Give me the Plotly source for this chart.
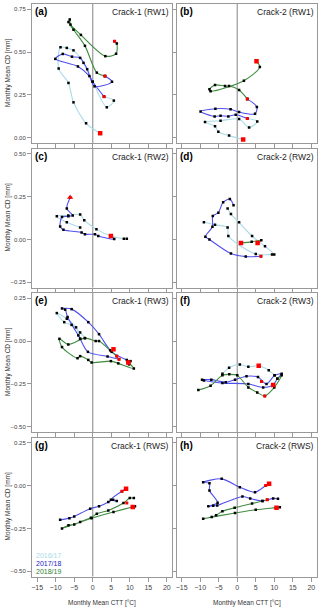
import plotly.graph_objects as go

# monthly mean (CTT [°C], CD [mm]) points, per panel and per season
a_1617 = [(2.0, 0.027), (-1.8, 0.085), (-5.2, 0.207), (-6.55, 0.32), (-9.2, 0.404), (-8.7, 0.528),
          (-7.0, 0.524), (-5.2, 0.51), (-2.5, 0.437), (0.0, 0.327), (3.8, 0.178), (5.7, 0.217), (3.05, 0.24)]
a_1718 = [(3.05, 0.24), (0.0, 0.327), (-0.9, 0.36), (-4.0, 0.416), (-10.1, 0.46), (-8.1, 0.489),
          (-5.6, 0.473), (-3.4, 0.466), (-1.5, 0.40), (0.5, 0.30), (5.2, 0.327), (3.3, 0.36)]
a_1819 = [(3.3, 0.36), (1.1, 0.38), (-2.1, 0.536), (-5.2, 0.63), (-6.55, 0.675), (-6.2, 0.69),
          (-6.0, 0.66), (-3.2, 0.60), (3.4, 0.476), (6.3, 0.49), (6.5, 0.55), (5.9, 0.563)]

b_1617 = [(1.6, -0.01), (-2.2, 0.013), (-5.1, 0.035), (-6.0, 0.067), (-8.7, 0.092), (-4.5, 0.10),
          (0.5, 0.11), (3.2, 0.06), (5.4, 0.096), (2.7, 0.113)]
b_1718 = [(2.7, 0.113), (-0.4, 0.135), (-2.4, 0.125), (-4.5, 0.129), (-6.1, 0.125), (-9.9, 0.154),
          (-5.9, 0.17), (-1.8, 0.167), (0.5, 0.15), (4.8, 0.14), (5.3, 0.18), (2.7, 0.227)]
b_1819 = [(2.7, 0.227), (0.5, 0.279), (-2.2, 0.302), (-3.3, 0.302), (-6.0, 0.308), (-7.5, 0.283),
          (-7.2, 0.272), (1.8, 0.333), (6.1, 0.413), (5.2, 0.446)]

c_1617 = [(-3.4, 0.07), (-7.0, 0.10), (-9.7, 0.135), (-6.6, 0.14), (-3.4, 0.145), (-2.3, 0.112),
          (1.0, 0.06), (4.9, 0.02), (8.4, 0.004), (9.2, 0.004)]
c_1718 = [(-6.1, 0.245), (-7.0, 0.18), (-5.4, 0.14), (-6.6, 0.135), (-8.3, 0.131), (-8.8, 0.076),
          (-7.9, 0.056), (-3.0, 0.04), (-2.1, 0.03), (0.6, 0.03), (1.5, 0.02), (5.8, 0.002), (4.9, 0.02)]
c_1819 = []

d_1617 = [(-2.6, 0.18), (-1.7, 0.148), (0.5, 0.10), (4.0, 0.02), (7.5, -0.04), (10.0, -0.088),
          (9.4, -0.088), (5.0, -0.085), (-2.4, 0.02), (-2.6, 0.07), (-6.0, 0.085), (-9.0, 0.10)]
d_1718 = [(-1.0, 0.20), (-2.0, 0.235), (-3.8, 0.217), (-5.1, 0.156), (-6.6, 0.137), (-6.7, 0.074),
          (-8.6, 0.016), (-7.5, 0.0), (-1.7, -0.082), (2.3, -0.10), (6.4, -0.098)]
d_1819 = [(1.0, -0.02), (3.9, -0.014), (6.5, -0.004), (5.5, -0.02)]

e_1617 = [(-2.1, 0.017), (-3.4, 0.05), (-5.7, 0.094), (-7.7, 0.11), (-9.7, 0.163), (-7.0, 0.13),
          (-4.5, 0.08), (-3.4, 0.013)]
e_1718 = [(7.1, -0.106), (4.0, -0.09), (-1.3, -0.063), (-3.4, 0.013), (-3.9, 0.033), (-6.8, 0.14),
          (-7.45, 0.183), (-8.3, 0.19), (-5.7, 0.186), (-1.2, 0.11), (1.7, 0.04), (5.1, -0.063),
          (9.2, -0.11), (10.2, -0.117), (9.8, -0.136)]
e_1819 = [(6.5, -0.088), (4.7, -0.054), (1.7, 0.0), (0.8, 0.0), (-2.1, 0.017), (-6.6, -0.02),
          (-9.0, 0.013), (-8.3, -0.035), (-4.1, -0.10), (-3.4, -0.088), (-1.2, -0.11), (-0.3, -0.125),
          (4.9, -0.117), (6.9, -0.13), (11.1, -0.16), (9.6, -0.125)]

f_1617 = [(-4.0, -0.19), (-2.2, -0.155), (0.7, -0.137), (3.0, -0.15), (5.8, -0.144), (8.5, -0.17),
          (10.1, -0.20)]
f_1718 = [(-9.5, -0.225), (-7.0, -0.225), (-3.1, -0.24), (-0.6, -0.225), (2.5, -0.205), (5.6, -0.21),
          (7.9, -0.25), (10.1, -0.20), (12.0, -0.19), (10.8, -0.22), (9.7, -0.256), (7.0, -0.27),
          (3.0, -0.25), (-4.0, -0.245), (-9.0, -0.23)]
f_1819 = [(-10.5, -0.285), (-7.2, -0.26), (-4.0, -0.20), (-2.15, -0.194), (0.0, -0.20), (3.0, -0.27),
          (5.4, -0.30), (7.45, -0.32), (10.0, -0.27), (12.0, -0.20), (10.8, -0.22)]

g_1617 = []
g_1718 = [(-8.8, -0.20), (-6.3, -0.19), (-5.0, -0.18), (-0.7, -0.135), (1.7, -0.121), (4.2, -0.096),
          (5.5, -0.083), (6.5, -0.09), (4.9, -0.083), (7.9, -0.033), (9.0, -0.019)]
g_1819 = [(11.1, -0.073), (10.0, -0.073), (8.3, -0.102), (4.2, -0.145), (1.1, -0.164), (-0.5, -0.188),
          (-3.4, -0.212), (-5.0, -0.227), (-6.55, -0.231), (-8.3, -0.25), (-0.3, -0.19), (5.6, -0.154),
          (11.4, -0.121), (10.8, -0.125)]

h_1617 = []
h_1718 = [(11.0, -0.077), (9.7, -0.075), (6.8, -0.09), (3.5, -0.075), (1.4, -0.064), (-5.4, -0.116),
          (-6.5, -0.118), (-7.8, -0.121), (-5.3, -0.10), (-7.5, -0.029), (-7.5, 0.013), (-9.2, 0.019),
          (-4.2, 0.039), (0.7, -0.01), (4.8, -0.039), (7.7, 0.0), (8.6, 0.01)]
h_1819 = [(8.1, -0.083), (6.8, -0.09), (4.0, -0.105), (-0.7, -0.13), (-4.0, -0.15), (-5.7, -0.173),
          (-6.9, -0.183), (-9.2, -0.193), (-0.6, -0.16), (5.0, -0.141), (11.5, -0.127), (10.6, -0.129)]

# red markers (season starts / ends)
red_big = {
    "a": [(2.0, 0.027)], "b": [(1.6, -0.01), (5.2, 0.446)], "c": [(4.9, 0.02)],
    "d": [(1.0, -0.02), (5.5, -0.02)], "e": [(5.6, -0.048), (9.6, -0.125)],
    "f": [(5.8, -0.144), (9.7, -0.256)], "g": [(9.0, -0.019), (10.8, -0.125)],
    "h": [(8.6, 0.01), (10.6, -0.129)],
}
red_small = {
    "a": [(3.05, 0.24), (3.3, 0.36), (5.9, 0.563)], "b": [(2.7, 0.113), (2.7, 0.227)], "c": [],
    "d": [(6.4, -0.098)], "e": [(6.5, -0.088), (7.1, -0.106)], "f": [(6.55, -0.236), (7.45, -0.32)],
    "g": [(7.9, -0.033), (9.2, -0.102)], "h": [(7.7, 0.0), (8.1, -0.083)],
}
red_tri = {"c": [(-6.1, 0.245)]}

panels = ["a", "b", "c", "d", "e", "f", "g", "h"]
titles = ["Crack-1 (RW1)", "Crack-2 (RW1)", "Crack-1 (RW2)", "Crack-2 (RW2)",
          "Crack-1 (RW3)", "Crack-2 (RW3)", "Crack-1 (RWS)", "Crack-2 (RWS)"]
series = {
    "a": [a_1617, a_1718, a_1819], "b": [b_1617, b_1718, b_1819], "c": [c_1617, c_1718, c_1819],
    "d": [d_1617, d_1718, d_1819], "e": [e_1617, e_1718, e_1819], "f": [f_1617, f_1718, f_1819],
    "g": [g_1617, g_1718, g_1819], "h": [h_1617, h_1718, h_1819],
}
seasons = ["2016/17", "2017/18", "2018/19"]
row_ranges = [(0.0, 0.75), (-0.25, 0.5), (-0.5, 0.25), (-0.5, 0.25)]
x_ticks = [-15, -10, -5, 0, 5, 10, 15, 20]

line_cols = ["#a9dbe8", "#5050f0", "#3f8c3f"]
text_cols = ["#a9dbe8", "#2323c8", "#2e7d2e"]

W, H = 320, 609
col_px = [(32, 172), (176.5, 316.5)]
row_top = [4, 148.5, 293, 437.5]
row_h = 139

fig = go.Figure()
layout = dict(width=W, height=H, margin=dict(l=0, r=0, t=0, b=0),
              paper_bgcolor="white", plot_bgcolor="white", showlegend=False,
              font=dict(family="Liberation Sans, Arial", size=7, color="#444"))
annots = []
shapes = []

for k, p in enumerate(panels):
    r, c = k // 2, k % 2
    n = k + 1
    xa = "x" if n == 1 else f"x{n}"
    ya = "y" if n == 1 else f"y{n}"
    x0, x1 = col_px[c][0] / W, col_px[c][1] / W
    y1 = 1 - row_top[r] / H
    y0 = 1 - (row_top[r] + row_h) / H
    lo, hi = row_ranges[r]
    pad = (hi - lo) * 0.04
    layout["xaxis" if n == 1 else f"xaxis{n}"] = dict(
        domain=[x0, x1], anchor=ya, range=[-16.4, 21.4], tickvals=x_ticks,
        showticklabels=(r == 3), ticks="outside", ticklen=4, tickcolor="#999",
        showline=True, mirror=True, linecolor="#999", linewidth=1,
        showgrid=False, zeroline=False, tickfont=dict(size=7, color="#444"))
    layout["yaxis" if n == 1 else f"yaxis{n}"] = dict(
        domain=[y0, y1], anchor=xa, range=[lo - pad, hi + pad],
        tickvals=[lo, lo + 0.25, lo + 0.5, lo + 0.75], tickformat=".2f",
        showticklabels=(c == 0), ticks="outside", ticklen=4, tickcolor="#999",
        showline=True, mirror=True, linecolor="#999", linewidth=1,
        showgrid=False, zeroline=False, tickfont=dict(size=6, color="#444"))

    shapes.append(dict(type="line", xref=xa, yref=f"{ya} domain", x0=0, x1=0, y0=0, y1=1,
                       line=dict(color="#999", width=1.2), layer="below"))

    for s, pts in enumerate(series[p]):
        if not pts:
            continue
        fig.add_trace(go.Scatter(
            x=[q[0] for q in pts], y=[q[1] for q in pts], xaxis=xa, yaxis=ya,
            mode="lines", line=dict(color=line_cols[s], width=1.1, shape="spline", smoothing=0.8),
            hoverinfo="skip"))
    for s, pts in enumerate(series[p]):
        if not pts:
            continue
        fig.add_trace(go.Scatter(
            x=[q[0] for q in pts], y=[q[1] for q in pts], xaxis=xa, yaxis=ya,
            mode="markers", marker=dict(color="black", size=2.5, symbol="square", line_width=0)))
    for pts, sym, sz in [(red_big.get(p, []), "square", 4.5), (red_small.get(p, []), "square", 3),
                         (red_tri.get(p, []), "triangle-up", 5.5)]:
        if pts:
            fig.add_trace(go.Scatter(
                x=[q[0] for q in pts], y=[q[1] for q in pts], xaxis=xa, yaxis=ya,
                mode="markers", marker=dict(color="red", size=sz, symbol=sym, line_width=0)))

    annots.append(dict(text=f"<b>({p})</b>", x=x0 + 1 / W, y=y1, xref="paper", yref="paper",
                       xanchor="left", yanchor="top", showarrow=False,
                       font=dict(size=10, color="black")))
    annots.append(dict(text=titles[k], x=x1 - 1 / W, y=y1 - 1 / H, xref="paper", yref="paper",
                       xanchor="right", yanchor="top", showarrow=False,
                       font=dict(size=8.5, color="#222")))
    if c == 0:
        annots.append(dict(text="Monthly Mean CD [mm]", x=7.5 / W, y=(y0 + y1) / 2,
                           xref="paper", yref="paper", textangle=-90, showarrow=False,
                           xanchor="center", yanchor="middle",
                           font=dict(size=6.5, color="#333")))
    if r == 3:
        annots.append(dict(text="Monthly Mean CTT [°C]", x=(x0 + x1) / 2, y=1 - 603 / H,
                           xref="paper", yref="paper", showarrow=False,
                           xanchor="center", yanchor="middle",
                           font=dict(size=6.5, color="#333")))

for s, name in enumerate(seasons):
    annots.append(dict(text=name, x=34 / W, y=1 - (555 + 8.3 * s) / H, xref="paper", yref="paper",
                       xanchor="left", yanchor="middle", showarrow=False,
                       font=dict(size=7, color=text_cols[s])))

layout["annotations"] = annots
layout["shapes"] = shapes
fig.update_layout(**layout)
fig.write_html("out.html", config={"displayModeBar": False},
               post_script="document.body.style.margin='0';document.body.style.overflow='hidden';")
